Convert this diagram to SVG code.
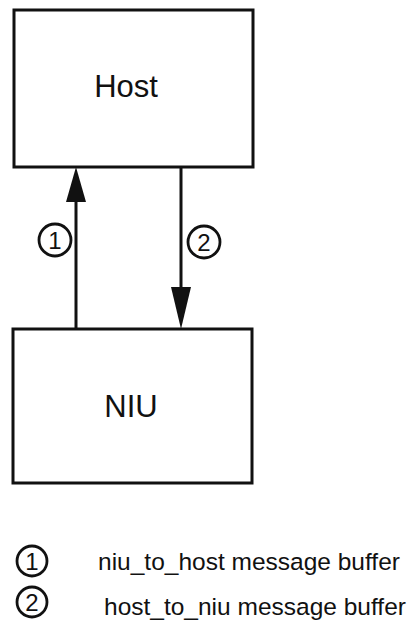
<svg xmlns="http://www.w3.org/2000/svg" width="412" height="633" viewBox="0 0 412 633">
<style>
.box{fill:#fff;stroke:#111;stroke-width:3}
.lbl{font-family:"Liberation Sans",Arial,sans-serif;font-size:31px;fill:#111;text-anchor:middle}
.num{font-family:"Liberation Sans",Arial,sans-serif;font-size:24px;fill:#111;text-anchor:middle}
.ring{fill:#fff;stroke:#111;stroke-width:2.8}
.line{stroke:#111;stroke-width:3;fill:none}
.leg{font-family:"Liberation Sans",Arial,sans-serif;font-size:24.5px;fill:#111}
</style>
<rect width="412" height="633" fill="#fff"/>
<g id="host">
<rect class="box" x="14" y="10" width="239" height="157"/>
<text class="lbl" x="126" y="97">Host</text>
</g>
<g id="niu">
<rect class="box" x="13" y="329" width="239" height="154"/>
<text class="lbl" x="131" y="417">NIU</text>
</g>
<g id="connectors">
<line class="line" x1="76" y1="329" x2="76" y2="195"/>
<polygon points="76,167 66,202 86,202" fill="#111"/>
<line class="line" x1="181" y1="167" x2="181" y2="295"/>
<polygon points="181,329 171,287 191,287" fill="#111"/>
<g id="label1">
<circle class="ring" cx="55" cy="240" r="16"/>
<text class="num" x="55" y="249">1</text>
</g>
<g id="label2">
<circle class="ring" cx="204" cy="242" r="16"/>
<text class="num" x="204" y="251">2</text>
</g>
</g>
<g id="legend">
<circle class="ring" cx="32" cy="561" r="15"/>
<text class="num" x="32" y="570">1</text>
<text class="leg" x="98" y="570">niu_to_host message buffer</text>
<circle class="ring" cx="32" cy="602" r="15"/>
<text class="num" x="32" y="611">2</text>
<text class="leg" x="104" y="615">host_to_niu message buffer</text>
</g>
</svg>
